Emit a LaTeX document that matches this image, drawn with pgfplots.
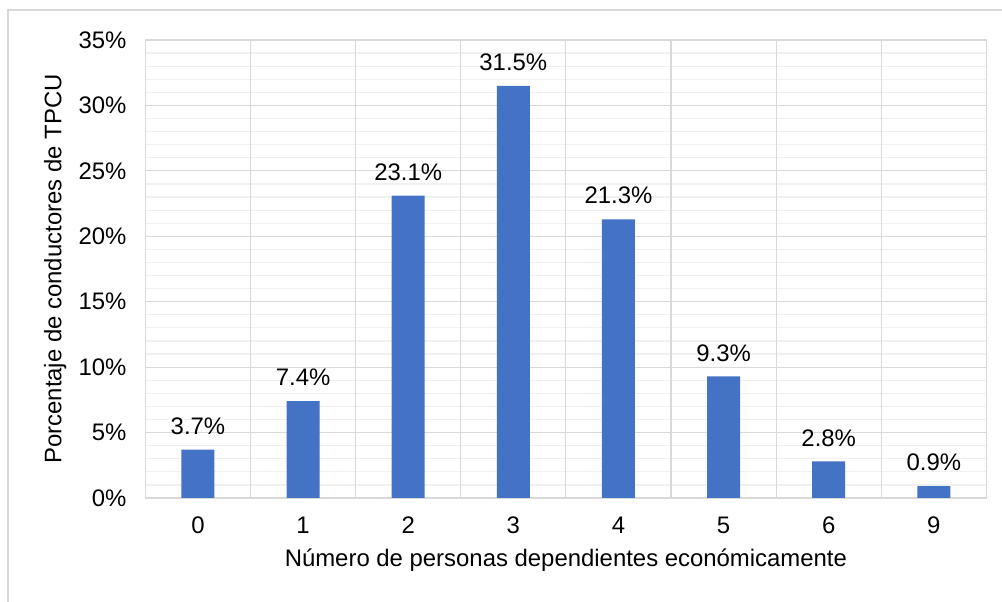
\documentclass[border=0pt]{standalone}
\usepackage{pgfplots}
\pgfplotsset{compat=1.18}
\usepackage{fontspec}
\setmainfont{Liberation Sans}
\definecolor{barblue}{HTML}{4472C4}
\definecolor{majgrid}{HTML}{D9D9D9}
\definecolor{mingrid}{HTML}{F0F0F0}
\begin{document}
\begin{tikzpicture}
\useasboundingbox (0,0) rectangle (501bp,301bp);
\fill[white] (0,0) rectangle (501bp,301bp);
\draw[majgrid, line width=0.8bp] (4bp,-2bp) -- (4bp,296bp) -- (503bp,296bp);
\begin{axis}[
  at={(72.7bp,52bp)}, anchor=south west,
  scale only axis, width=420.5bp, height=229bp,
  font=\fontsize{12}{14}\selectfont,
  /pgf/number format/assume math mode=true,
  xmin=-0.5, xmax=7.5, ymin=0, ymax=35,
  xtick={0,...,7}, xticklabels={0,1,2,3,4,5,6,9},
  ytick={0,5,...,35}, yticklabels={0\%,5\%,10\%,15\%,20\%,25\%,30\%,35\%},
  minor y tick num=4,
  major tick length=0, minor tick length=0,
  ymajorgrids, yminorgrids,
  major grid style={majgrid, line width=0.6bp},
  minor grid style={mingrid, line width=0.6bp},
  extra x ticks={0.5,1.5,...,6.5}, extra x tick labels={},
  extra x tick style={grid=major},
  axis line style={majgrid, line width=0.6bp},
  xticklabel style={yshift=-6bp},
  yticklabel style={xshift=-6bp},
  xlabel={Número de personas dependientes económicamente},
  ylabel={Porcentaje de conductores de TPCU},
  xlabel style={at={(axis description cs:0.5,0)}, anchor=north, yshift=-22bp},
  ylabel style={at={(axis description cs:0,0.5)}, anchor=south, yshift=36bp},
]
\addplot[ybar, bar width=16.5bp, fill=barblue, draw=none,
  nodes near coords={\pgfmathprintnumber[fixed,fixed zerofill,precision=1]{\pgfplotspointmeta}\%},
  every node near coord/.append style={font=\fontsize{12}{14}\selectfont, yshift=4bp}]
  coordinates {(0,3.7) (1,7.4) (2,23.1) (3,31.5) (4,21.3) (5,9.3) (6,2.8) (7,0.9)};
\end{axis}
\end{tikzpicture}
\end{document}
